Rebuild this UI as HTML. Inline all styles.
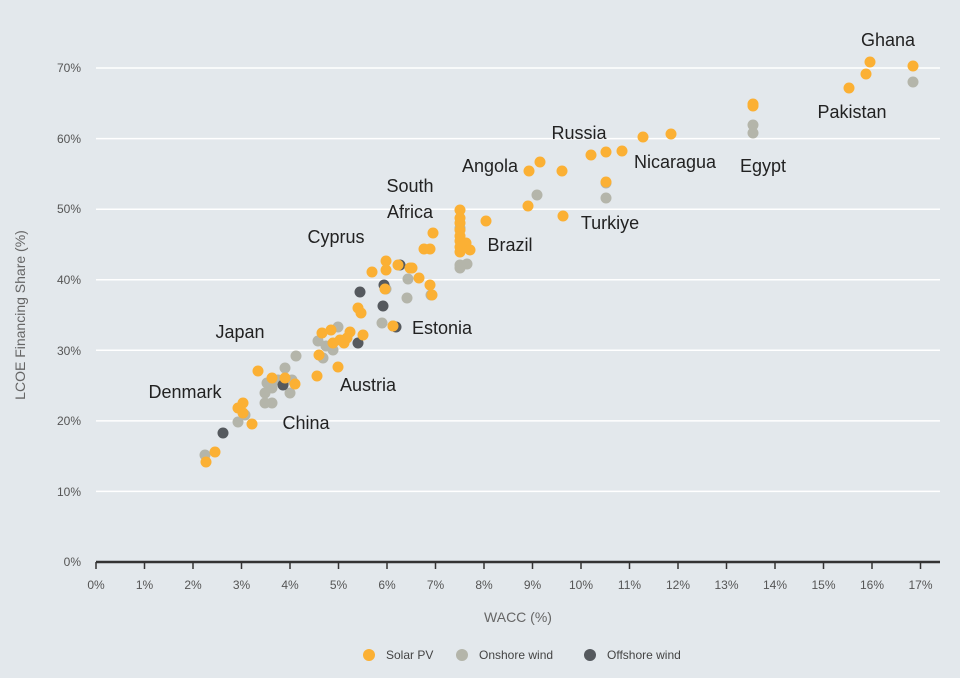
<!DOCTYPE html><html><head><style>body{margin:0;background:#e3e8ec}</style></head><body>
<svg width="960" height="673" xmlns="http://www.w3.org/2000/svg" font-family="Liberation Sans, sans-serif">
<rect width="960" height="673" fill="#e3e8ec"/>
<g stroke="#fff" stroke-width="1.5">
<line x1="96" x2="940" y1="491.4" y2="491.4"/><line x1="96" x2="940" y1="420.9" y2="420.9"/><line x1="96" x2="940" y1="350.3" y2="350.3"/><line x1="96" x2="940" y1="279.7" y2="279.7"/><line x1="96" x2="940" y1="209.2" y2="209.2"/><line x1="96" x2="940" y1="138.6" y2="138.6"/><line x1="96" x2="940" y1="68" y2="68"/>
</g>
<g font-size="12" fill="#555" text-anchor="end">
<text x="81" y="566">0%</text><text x="81" y="496">10%</text><text x="81" y="425">20%</text><text x="81" y="355">30%</text><text x="81" y="284">40%</text><text x="81" y="213">50%</text><text x="81" y="143">60%</text><text x="81" y="72">70%</text>
</g>
<line x1="96" x2="940" y1="562" y2="562" stroke="#333" stroke-width="2.5"/>
<g stroke="#333" stroke-width="1.5" id="t"></g>
<g font-size="12" fill="#555" text-anchor="middle" id="xl"></g>
<text x="518" y="622" font-size="14" fill="#666" text-anchor="middle">WACC (%)</text>
<text transform="translate(25,315) rotate(-90)" font-size="14" fill="#666" text-anchor="middle">LCOE Financing Share (%)</text>
<g id="pts"></g>
<g font-size="18" fill="#222" text-anchor="middle">
<text x="888" y="46">Ghana</text><text x="852" y="118">Pakistan</text><text x="579" y="139">Russia</text><text x="675" y="168">Nicaragua</text><text x="763" y="172">Egypt</text><text x="490" y="172">Angola</text><text x="610" y="229">Turkiye</text><text x="410" y="192">South</text><text x="410" y="218">Africa</text><text x="510" y="251">Brazil</text><text x="336" y="243">Cyprus</text><text x="442" y="334">Estonia</text><text x="240" y="338">Japan</text><text x="368" y="391">Austria</text><text x="185" y="398">Denmark</text><text x="306" y="429">China</text>
</g>
<g font-size="12" fill="#444">
<circle cx="369" cy="655" r="6" fill="#fbb034"/><text x="386" y="659">Solar PV</text>
<circle cx="462" cy="655" r="6" fill="#b4b5aa"/><text x="479" y="659">Onshore wind</text>
<circle cx="590" cy="655" r="6" fill="#55595e"/><text x="607" y="659">Offshore wind</text>
</g>
</svg>
<script>
var ns="http://www.w3.org/2000/svg";
var t=document.getElementById('t'),xl=document.getElementById('xl');
for(var i=0;i<=17;i++){var x=96+48.5*i;var l=document.createElementNS(ns,'line');l.setAttribute('x1',x);l.setAttribute('x2',x);l.setAttribute('y1',562);l.setAttribute('y2',569);t.appendChild(l);
var s=document.createElementNS(ns,'text');s.setAttribute('x',x);s.setAttribute('y',589);s.textContent=i+'%';xl.appendChild(s);}
var G=[[913,82],[753,125],[753,133],[606,183],[606,198],[537,195],[460,228],[460,265],[460,268],[467,264],[408,279],[407,298],[431,295],[382,323],[393,326],[386,289],[338,327],[318,341],[326,346],[333,350],[323,358],[296,356],[285,368],[292,380],[278,380],[267,383],[272,388],[290,393],[265,393],[265,403],[272,403],[238,422],[245,415],[205,455]];
var O=[[870,62],[913,66],[866,74],[849,88],[753,104],[753,106],[671,134],[643,137],[622,151],[606,152],[540,162],[529,171],[562,171],[591,155],[606,182],[528,206],[563,216],[460,210],[460,218],[460,223],[460,230],[460,236],[460,241],[460,247],[460,252],[466,243],[470,250],[486,221],[433,233],[430,249],[424,249],[398,265],[386,261],[386,270],[372,272],[412,268],[410,268],[419,278],[430,285],[432,295],[385,289],[358,308],[361,313],[331,330],[350,332],[347,338],[340,340],[322,333],[333,343],[344,343],[363,335],[393,326],[319,355],[317,376],[338,367],[295,384],[258,371],[272,378],[285,378],[243,403],[238,408],[243,413],[252,424],[215,452],[206,462]];
var D=[[400,265],[360,292],[384,285],[383,306],[358,343],[396,327],[223,433],[283,385]];
var p=document.getElementById('pts');
function add(a,c){a.forEach(function(q){var e=document.createElementNS(ns,'circle');e.setAttribute('cx',q[0]);e.setAttribute('cy',q[1]);e.setAttribute('r',5.5);e.setAttribute('fill',c);p.appendChild(e);});}
add(G,'#b4b5aa');add(D,'#55595e');add(O,'#fbb034');
</script>
</body></html>
